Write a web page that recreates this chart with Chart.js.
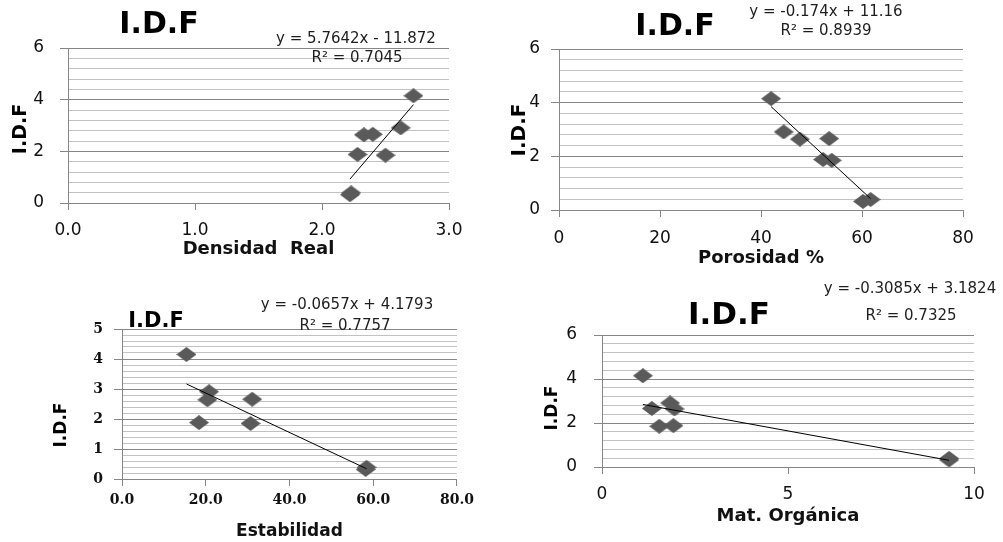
<!DOCTYPE html>
<html>
<head>
<meta charset="utf-8">
<script src="https://cdn.jsdelivr.net/npm/chart.js@4.4.1/dist/chart.umd.min.js"></script>
<style>
  body { margin: 0; background: #fff; }
  #wrap { position: relative; width: 1003px; height: 542px; overflow: hidden; }
  canvas { position: absolute; }
</style>
</head>
<body>
<div id="wrap">
  <canvas id="c-densidad" width="480" height="270" style="left:0;top:0"></canvas>
  <canvas id="c-porosidad" width="523" height="270" style="left:480px;top:0"></canvas>
  <canvas id="c-estabilidad" width="480" height="272" style="left:0;top:270px"></canvas>
  <canvas id="c-materia" width="523" height="272" style="left:480px;top:270px"></canvas>
</div>
<script>
// I.D.F of the 8 samples, same order in every panel
const idf = [4.15, 2.91, 2.64, 2.66, 1.88, 1.85, 0.32, 0.39];

const densidad = [2.72, 2.62, 2.33, 2.40, 2.28, 2.50, 2.22, 2.23];
const porosidad = [42.0, 44.5, 47.7, 53.5, 52.3, 54.0, 60.2, 61.7];
const estabilidad = [15.4, 20.8, 20.4, 31.1, 18.4, 30.7, 58.2, 58.4];
const materia = [1.10, 1.83, 1.95, 1.34, 1.92, 1.54, 9.33, 9.33];

// linear trendlines as printed: slope, intercept
const fitDensidad = [5.7642, -11.872];
const fitPorosidad = [-0.174, 11.16];
const fitEstabilidad = [-0.0657, 4.1793];
const fitMateria = [-0.3085, 3.1824];

const eqDensidad = ["y = 5.7642x - 11.872", "R² = 0.7045"];
const eqPorosidad = ["y = -0.174x + 11.16", "R² = 0.8939"];
const eqEstabilidad = ["y = -0.0657x + 4.1793", "R² = 0.7757"];
const eqMateria = ["y = -0.3085x + 3.1824", "R² = 0.7325"];

// excel-like diamond, a bit wider than tall
function diamond(w, h, color) {
  const c = document.createElement('canvas');
  c.width = w; c.height = h;
  const g = c.getContext('2d');
  g.fillStyle = color;
  g.beginPath();
  g.moveTo(w / 2, 0); g.lineTo(w, h / 2); g.lineTo(w / 2, h); g.lineTo(0, h / 2);
  g.closePath();
  g.fill();
  return c;
}
const marker = diamond(20, 15, '#5a5a5a');

// free text (title, equation, rotated y title)
const notes = {
  id: 'notes',
  afterDraw(chart, args, opts) {
    const ctx = chart.ctx;
    (opts.items || []).forEach(t => {
      ctx.save();
      ctx.font = t.font;
      ctx.fillStyle = t.color || '#1e1e1e';
      ctx.textAlign = 'center';
      ctx.textBaseline = 'middle';
      ctx.translate(t.x, t.y);
      if (t.rotate) ctx.rotate(t.rotate);
      ctx.fillText(t.text, 0, 0);
      ctx.restore();
    });
  }
};

function makeChart(id, p) {
  const yW = 40;
  const xH = p.xTitleY + p.xTitleSize * 1.2 / 2 - p.plot.b;
  const lo = Math.min(...p.xs), hi = Math.max(...p.xs);
  const isMajor = v => Math.abs(v / p.yMajor - Math.round(v / p.yMajor)) < 1e-6;
  const items = p.texts.map(t => Object.assign({}, t, { x: t.x - p.x, y: t.y - p.y }));

  return new Chart(document.getElementById(id), {
    type: 'scatter',
    data: {
      datasets: [
        {
          data: [{ x: lo, y: p.fit[0] * lo + p.fit[1] }, { x: hi, y: p.fit[0] * hi + p.fit[1] }],
          showLine: true,
          borderColor: '#000',
          borderWidth: 1,
          pointRadius: 0
        },
        {
          data: p.xs.map((x, i) => ({ x: x, y: idf[i] })),
          pointStyle: marker,
          pointRadius: 6
        }
      ]
    },
    options: {
      responsive: false,
      animation: false,
      layout: {
        padding: {
          left: p.plot.l - p.x - yW,
          right: p.x + p.w - p.plot.r,
          top: p.plot.t - p.y,
          bottom: p.y + p.h - p.plot.b - xH
        }
      },
      plugins: {
        legend: { display: false },
        tooltip: { enabled: false },
        notes: { items: items }
      },
      scales: {
        x: {
          type: 'linear',
          min: 0,
          max: p.xMax,
          afterFit: s => { s.height = xH; },
          ticks: {
            stepSize: p.xStep,
            padding: p.xPad,
            font: p.tickFont,
            color: '#111',
            callback: v => v.toFixed(p.xDec)
          },
          grid: { drawOnChartArea: false, tickLength: 7, color: '#868686' },
          border: { color: '#868686' },
          title: {
            display: true,
            text: p.xTitle,
            color: '#111',
            padding: 0,
            font: { family: 'DejaVu Sans', size: p.xTitleSize, weight: 'bold' }
          }
        },
        y: {
          min: 0,
          max: p.yMax,
          afterFit: s => { s.width = yW; },
          ticks: {
            stepSize: p.yMinor,
            autoSkip: false,
            padding: p.yPad,
            font: p.tickFont,
            color: '#111',
            callback: v => isMajor(v) ? String(Math.round(v)) : ''
          },
          grid: {
            tickLength: 8,
            color: c => isMajor(c.tick.value) ? '#868686' : '#c2c2c2',
            tickColor: c => isMajor(c.tick.value) ? '#868686' : 'rgba(0,0,0,0)'
          },
          border: { color: '#868686' }
        }
      }
    },
    plugins: [notes]
  });
}

const sans17 = { family: 'DejaVu Sans', size: 17 };
const serif14 = { family: 'DejaVu Serif', size: 14, weight: 'bold' };
const eqFont = '15px "DejaVu Sans"';

makeChart('c-densidad', {
  x: 0, y: 0, w: 480, h: 270,
  plot: { l: 68, r: 449, t: 48, b: 203 },
  xs: densidad, fit: fitDensidad,
  xMax: 3, xStep: 1, xDec: 1, xPad: 10,
  xTitle: 'Densidad  Real', xTitleSize: 18, xTitleY: 249,
  yMax: 6, yMinor: 0.4, yMajor: 2, yPad: 16,
  tickFont: sans17,
  texts: [
    { text: 'I.D.F', x: 159, y: 25, font: 'bold 30px "DejaVu Sans"', color: '#000' },
    { text: eqDensidad[0], x: 356, y: 39.5, font: eqFont },
    { text: eqDensidad[1], x: 357, y: 58, font: eqFont },
    { text: 'I.D.F', x: 21, y: 129, font: 'bold 19px "DejaVu Sans"', color: '#000', rotate: -Math.PI / 2 }
  ]
});

makeChart('c-porosidad', {
  x: 480, y: 0, w: 523, h: 270,
  plot: { l: 559, r: 963, t: 49, b: 210 },
  xs: porosidad, fit: fitPorosidad,
  xMax: 80, xStep: 20, xDec: 0, xPad: 11,
  xTitle: 'Porosidad %', xTitleSize: 18, xTitleY: 258,
  yMax: 6, yMinor: 0.4, yMajor: 2, yPad: 11,
  tickFont: sans17,
  texts: [
    { text: 'I.D.F', x: 675, y: 27, font: 'bold 30px "DejaVu Sans"', color: '#000' },
    { text: eqPorosidad[0], x: 826, y: 12, font: eqFont },
    { text: eqPorosidad[1], x: 826, y: 31, font: eqFont },
    { text: 'I.D.F', x: 519.5, y: 130, font: 'bold 20px "DejaVu Sans"', color: '#000', rotate: -Math.PI / 2 }
  ]
});

makeChart('c-estabilidad', {
  x: 0, y: 270, w: 480, h: 272,
  plot: { l: 122, r: 458, t: 329, b: 479 },
  xs: estabilidad, fit: fitEstabilidad,
  xMax: 80, xStep: 20, xDec: 1, xPad: 6,
  xTitle: 'Estabilidad', xTitleSize: 17, xTitleY: 531.5,
  yMax: 5, yMinor: 0.2, yMajor: 1, yPad: 11,
  tickFont: serif14,
  texts: [
    { text: 'I.D.F', x: 156, y: 322, font: 'bold 21px "DejaVu Sans"', color: '#000' },
    { text: eqEstabilidad[0], x: 347, y: 305, font: eqFont },
    { text: eqEstabilidad[1], x: 345, y: 326, font: eqFont },
    { text: 'I.D.F', x: 62, y: 425, font: 'bold 17px "DejaVu Sans"', color: '#000', rotate: -Math.PI / 2 }
  ]
});

makeChart('c-materia', {
  x: 480, y: 270, w: 523, h: 272,
  plot: { l: 602, r: 974, t: 335, b: 467 },
  xs: materia, fit: fitMateria,
  xMax: 10, xStep: 5, xDec: 0, xPad: 10,
  xTitle: 'Mat. Orgánica', xTitleSize: 18, xTitleY: 516.5,
  yMax: 6, yMinor: 0.4, yMajor: 2, yPad: 17,
  tickFont: sans17,
  texts: [
    { text: 'I.D.F', x: 729, y: 316, font: 'bold 31px "DejaVu Sans"', color: '#000' },
    { text: eqMateria[0], x: 910, y: 289, font: eqFont },
    { text: eqMateria[1], x: 911, y: 316, font: eqFont },
    { text: 'I.D.F', x: 553, y: 408, font: 'bold 17px "DejaVu Sans"', color: '#000', rotate: -Math.PI / 2 }
  ]
});
</script>
</body>
</html>
